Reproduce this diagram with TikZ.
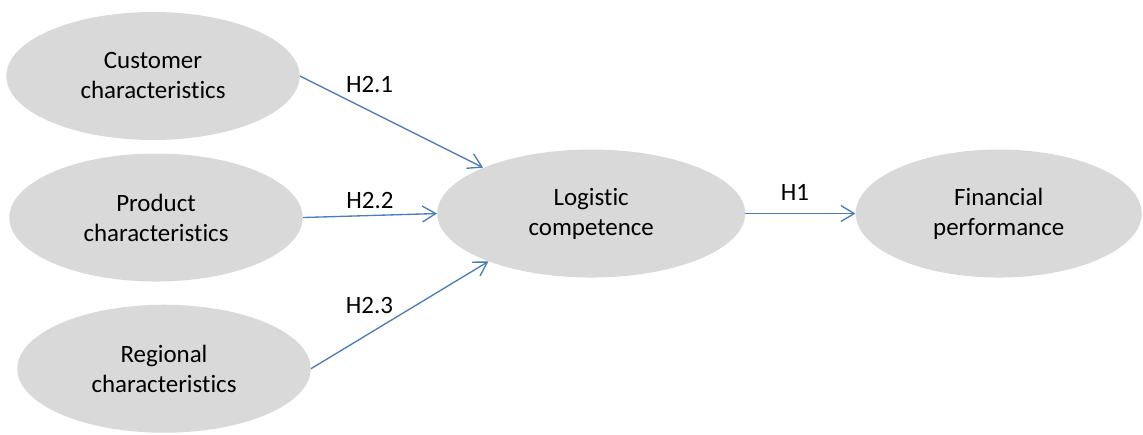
\documentclass[tikz,border=0pt]{standalone}
\usepackage{fontspec}
\setmainfont{Carlito}[Ligatures=NoCommon]
\usetikzlibrary{positioning,shapes.geometric,arrows.meta}
\definecolor{bubblegray}{HTML}{D9D9D9}
\definecolor{linkblue}{HTML}{4A7EBB}
\tikzset{construct/.style={ellipse, fill=bubblegray, minimum width=220pt, minimum height=96pt, inner sep=0pt, align=center, font=\fontsize{18.7}{22.5}\selectfont},
% grey ellipses hold the constructs, blue arrows the hypotheses
line/.style={-{Straight Barb[length=10pt,width=12pt]}, draw=linkblue, line width=1pt},
hyp/.style={inner sep=0pt, font=\fontsize{18.7}{22.5}\selectfont}
}
\begin{document}
\begin{tikzpicture}[x=0.75pt,y=-0.75pt]
    \useasboundingbox (0,0) rectangle (1143,435);
    \node[construct] (cust) at (153,76) {Customer\\characteristics};
    \node[construct,below=9.75pt of cust,xshift=2.25pt] (prod) {Product\\characteristics};
    \node[construct,below=17pt of prod,xshift=6pt] (reg) {Regional\\characteristics};
    \node[construct,minimum width=231pt,right=100.5pt of prod,yshift=3pt] (logi) {Logistic\\competence};
    \node[construct,minimum width=214.5pt,right=82.5pt of logi] (fin) {Financial\\performance};
    \draw[line] (cust.east) -- (logi.157) node[hyp,pos=0.38,above=12.75pt] {H2.1};
    \draw[line] (prod.east) -- (logi.west) node[hyp,midway,above=5pt] {H2.2};
    \draw[line] (reg.east) -- (logi.205) node[hyp,pos=0.33,above=14pt] {H2.3};
    \draw[line] (logi.east) -- (fin.west) node[hyp,pos=0.45,above=9pt] {H1};
  \end{tikzpicture}
\end{document}
